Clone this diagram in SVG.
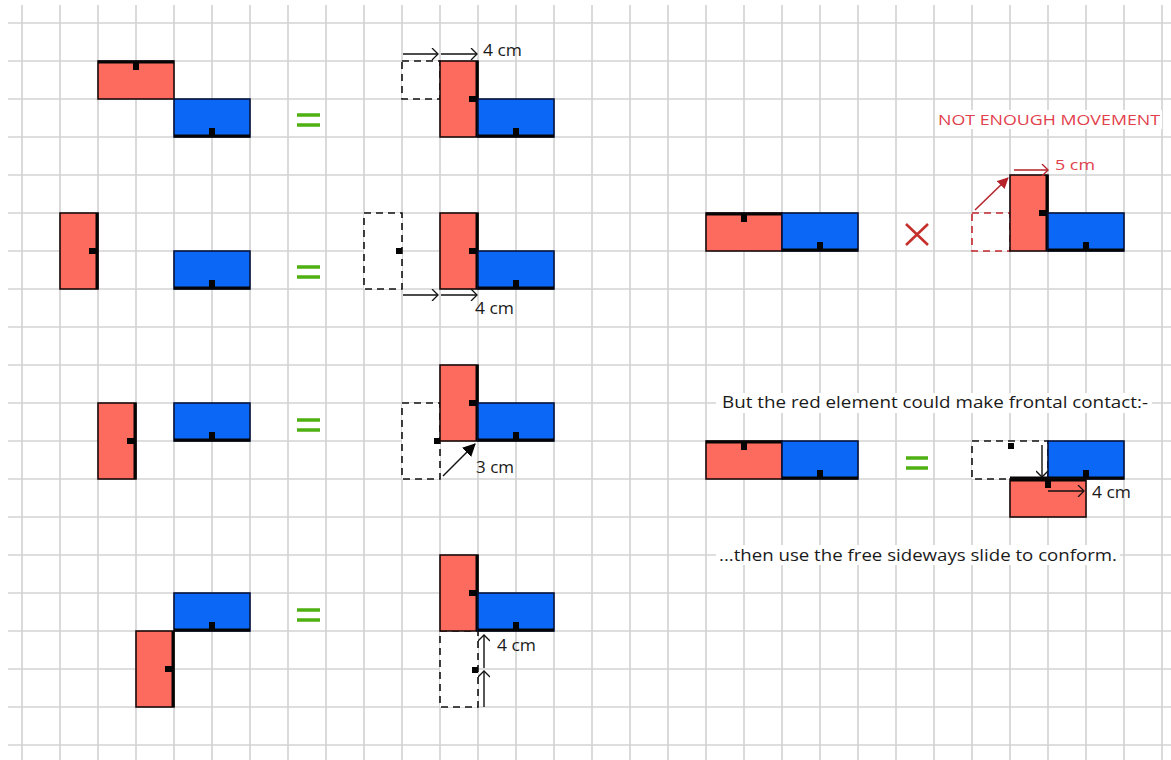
<svg xmlns="http://www.w3.org/2000/svg" width="1171" height="760" viewBox="0 0 1171 760">
<style>
.g{stroke:#d4d4d4;stroke-width:1.7;fill:none}
.r{fill:#fd6a5e;stroke:#1a0a0a;stroke-width:1.6}
.b{fill:#0b68f6;stroke:#04123a;stroke-width:1.6}
.d{fill:#fff;stroke:#111;stroke-width:1.6;stroke-dasharray:7 5}
.dr{fill:#fff;stroke:#c0272d;stroke-width:1.6;stroke-dasharray:7 5}
.e{stroke:#050505;stroke-width:3;fill:none}
.k{fill:#050505;stroke:none}
.a{stroke:#111;stroke-width:1.4;fill:none}
.ar{stroke:#b5222a;stroke-width:1.5;fill:none}
.eq{stroke:#4fb012;stroke-width:3.6;fill:none}
.t{font-family:"Open Sans","Noto Sans",sans-serif;font-size:16px;fill:#1a1a1a}
.tr{font-family:"Open Sans","Noto Sans",sans-serif;font-size:15px;fill:#e2404c}
.w{fill:#fff;stroke:none}
</style>
<defs>
<marker id="open" viewBox="0 0 10 12" refX="9" refY="6" markerWidth="10" markerHeight="12" markerUnits="userSpaceOnUse" orient="auto"><path d="M3 0L9 6L3 12" fill="none" stroke="#111" stroke-width="1.3"/></marker>
<marker id="openr" viewBox="0 0 10 12" refX="9" refY="6" markerWidth="10" markerHeight="12" markerUnits="userSpaceOnUse" orient="auto"><path d="M3 0L9 6L3 12" fill="none" stroke="#b5222a" stroke-width="1.4"/></marker>
<marker id="solid" viewBox="0 0 12 12" refX="11" refY="6" markerWidth="13" markerHeight="13" markerUnits="userSpaceOnUse" orient="auto"><path d="M0 0L12 6L0 12Z" fill="#050505"/></marker>
<marker id="solidr" viewBox="0 0 12 12" refX="11" refY="6" markerWidth="11" markerHeight="11" markerUnits="userSpaceOnUse" orient="auto"><path d="M0 0L12 6L0 12Z" fill="#b5222a"/></marker>
</defs>
<g id="grid">
<path class="g" d="M22 5V760M60 5V760M98 5V760M136 5V760M174 5V760M212 5V760M250 5V760M288 5V760M326 5V760M364 5V760M402 5V760M440 5V760M478 5V760M516 5V760M554 5V760M592 5V760M630 5V760M668 5V760M706 5V760M744 5V760M782 5V760M820 5V760M858 5V760M896 5V760M934 5V760M972 5V760M1010 5V760M1048 5V760M1086 5V760M1124 5V760M1162 5V760"/>
<path class="g" d="M8 23H1171M8 61H1171M8 99H1171M8 137H1171M8 175H1171M8 213H1171M8 251H1171M8 289H1171M8 327H1171M8 365H1171M8 403H1171M8 441H1171M8 479H1171M8 517H1171M8 555H1171M8 593H1171M8 631H1171M8 669H1171M8 707H1171M8 745H1171"/>
</g>
<g id="row1-left">
<rect class="r" x="98" y="61" width="76" height="38"/><path class="e" d="M98 62H174"/><rect class="k" x="133" y="61" width="6" height="9"/>
<rect class="b" x="174" y="99" width="76" height="38"/><path class="e" d="M174 136H250"/><rect class="k" x="209" y="128" width="6" height="9"/>
</g>
<path id="eq1" class="eq" d="M297 115H320M297 125H320"/>
<g id="row1-right">
<rect class="d" x="402" y="61" width="38" height="38"/>
<rect class="r" x="440" y="61" width="38" height="76"/><path class="e" d="M477 61V137"/><rect class="k" x="469" y="96" width="9" height="6"/>
<rect class="b" x="478" y="99" width="76" height="38"/><path class="e" d="M478 136H554"/><rect class="k" x="513" y="128" width="6" height="9"/>
</g>
<g id="row2-left">
<rect class="r" x="60" y="213" width="38" height="76"/><path class="e" d="M97 213V289"/><rect class="k" x="89" y="248" width="9" height="6"/>
<rect class="b" x="174" y="251" width="76" height="38"/><path class="e" d="M174 288H250"/><rect class="k" x="209" y="280" width="6" height="9"/>
</g>
<path id="eq2" class="eq" d="M297 267H320M297 277H320"/>
<g id="row2-right">
<rect class="d" x="364" y="213" width="38" height="76"/><rect class="k" x="396" y="248" width="6" height="6"/>
<rect class="r" x="440" y="213" width="38" height="76"/><path class="e" d="M477 213V289"/><rect class="k" x="469" y="248" width="9" height="6"/>
<rect class="b" x="478" y="251" width="76" height="38"/><path class="e" d="M478 288H554"/><rect class="k" x="513" y="280" width="6" height="9"/>
</g>
<g id="row3-left">
<rect class="r" x="98" y="403" width="38" height="76"/><path class="e" d="M135 403V479"/><rect class="k" x="127" y="438" width="9" height="6"/>
<rect class="b" x="174" y="403" width="76" height="38"/><path class="e" d="M174 440H250"/><rect class="k" x="209" y="432" width="6" height="9"/>
</g>
<path id="eq3" class="eq" d="M297 420H320M297 430H320"/>
<g id="row3-right">
<rect class="d" x="402" y="403" width="38" height="76"/>
<rect class="r" x="440" y="365" width="38" height="76"/><path class="e" d="M477 365V441"/><rect class="k" x="469" y="400" width="9" height="6"/>
<rect class="k" x="434" y="438" width="6" height="6"/>
<rect class="b" x="478" y="403" width="76" height="38"/><path class="e" d="M478 440H554"/><rect class="k" x="513" y="432" width="6" height="9"/>
</g>
<g id="row4-left">
<rect class="b" x="174" y="593" width="76" height="38"/><path class="e" d="M174 630H250"/><rect class="k" x="209" y="622" width="6" height="9"/>
<rect class="r" x="136" y="631" width="38" height="76"/><path class="e" d="M173 631V707"/><rect class="k" x="165" y="666" width="9" height="6"/>
</g>
<path id="eq4" class="eq" d="M297 610H320M297 620H320"/>
<g id="row4-right">
<rect class="d" x="440" y="631" width="38" height="76"/><rect class="k" x="472" y="667" width="6" height="6"/>
<rect class="r" x="440" y="555" width="38" height="76"/><path class="e" d="M477 555V631"/><rect class="k" x="469" y="590" width="9" height="6"/>
<rect class="b" x="478" y="593" width="76" height="38"/><path class="e" d="M478 630H554"/><rect class="k" x="513" y="622" width="6" height="9"/>
</g>
<g id="upper-right-left">
<rect class="r" x="706" y="213" width="76" height="38"/><path class="e" d="M706 214H782"/><rect class="k" x="741" y="213" width="6" height="9"/>
<rect class="b" x="782" y="213" width="76" height="38"/><path class="e" d="M782 250H858"/><rect class="k" x="817" y="242" width="6" height="9"/>
</g>
<path id="cross" d="M906 224L928 245M928 224L906 245" stroke="#c5302c" stroke-width="2.6" fill="none"/>
<g id="upper-right-right">
<rect class="dr" x="972" y="213" width="38" height="38"/>
<rect class="r" x="1010" y="175" width="38" height="76"/><path class="e" d="M1047 175V251"/><rect class="k" x="1039" y="210" width="9" height="6"/>
<rect class="b" x="1048" y="213" width="76" height="38"/><path class="e" d="M1048 250H1124"/><rect class="k" x="1083" y="242" width="6" height="9"/>
</g>
<g id="lower-right-left">
<rect class="r" x="706" y="441" width="76" height="38"/><path class="e" d="M706 442H782"/><rect class="k" x="741" y="441" width="6" height="9"/>
<rect class="b" x="782" y="441" width="76" height="38"/><path class="e" d="M782 478H858"/><rect class="k" x="817" y="470" width="6" height="9"/>
</g>
<path id="eq5" class="eq" d="M906 458H928M906 468H928"/>
<g id="lower-right-right">
<rect class="d" x="972" y="441" width="76" height="38"/><rect class="k" x="1008" y="443" width="6" height="6"/>
<rect class="b" x="1048" y="441" width="76" height="38"/><path class="e" d="M1010 478H1124"/><rect class="k" x="1083" y="470" width="6" height="9"/>
<rect class="r" x="1010" y="479" width="76" height="38"/><path class="e" d="M1010 480H1086"/><rect class="k" x="1045" y="479" width="6" height="9"/>
</g>
<g id="connectors">
<path class="a" d="M403 54H438" marker-end="url(#open)"/>
<path class="a" d="M441 54H477" marker-end="url(#open)"/>
<path class="a" d="M403 295H438" marker-end="url(#open)"/>
<path class="a" d="M441 295H477" marker-end="url(#open)"/>
<path class="a" d="M443 476L475 444" marker-end="url(#solid)"/>
<path class="a" d="M484 707V671" marker-end="url(#open)"/>
<path class="a" d="M484 668V635" marker-end="url(#open)"/>
<path class="ar" d="M1014 170H1048" marker-end="url(#openr)"/>
<path class="ar" d="M975 210L1008 178" marker-end="url(#solidr)"/>
<path class="a" d="M1042 445V477" marker-end="url(#open)"/>
<path class="a" d="M1048 491H1084" marker-end="url(#open)"/>
</g>
<g id="labels">
<rect class="w" x="936" y="110" width="226" height="19"/>
<rect class="w" x="716" y="393" width="436" height="20"/>
<rect class="w" x="716" y="545" width="404" height="20"/>
<text class="t" x="483" y="56" textLength="39" lengthAdjust="spacingAndGlyphs">4 cm</text>
<text class="t" x="475" y="314" textLength="39" lengthAdjust="spacingAndGlyphs">4 cm</text>
<text class="t" x="476" y="473" textLength="38" lengthAdjust="spacingAndGlyphs">3 cm</text>
<text class="t" x="497" y="651" textLength="39" lengthAdjust="spacingAndGlyphs">4 cm</text>
<text class="t" x="1092" y="498" textLength="39" lengthAdjust="spacingAndGlyphs">4 cm</text>
<text class="tr" x="1055" y="170" textLength="40" lengthAdjust="spacingAndGlyphs">5 cm</text>
<text class="tr" x="938" y="125" textLength="222" lengthAdjust="spacingAndGlyphs">NOT ENOUGH MOVEMENT</text>
<text class="t" x="722" y="408" textLength="426" lengthAdjust="spacingAndGlyphs">But the red element could make frontal contact:-</text>
<text class="t" x="719" y="561" textLength="398" lengthAdjust="spacingAndGlyphs">...then use the free sideways slide to conform.</text>
</g>
</svg>
